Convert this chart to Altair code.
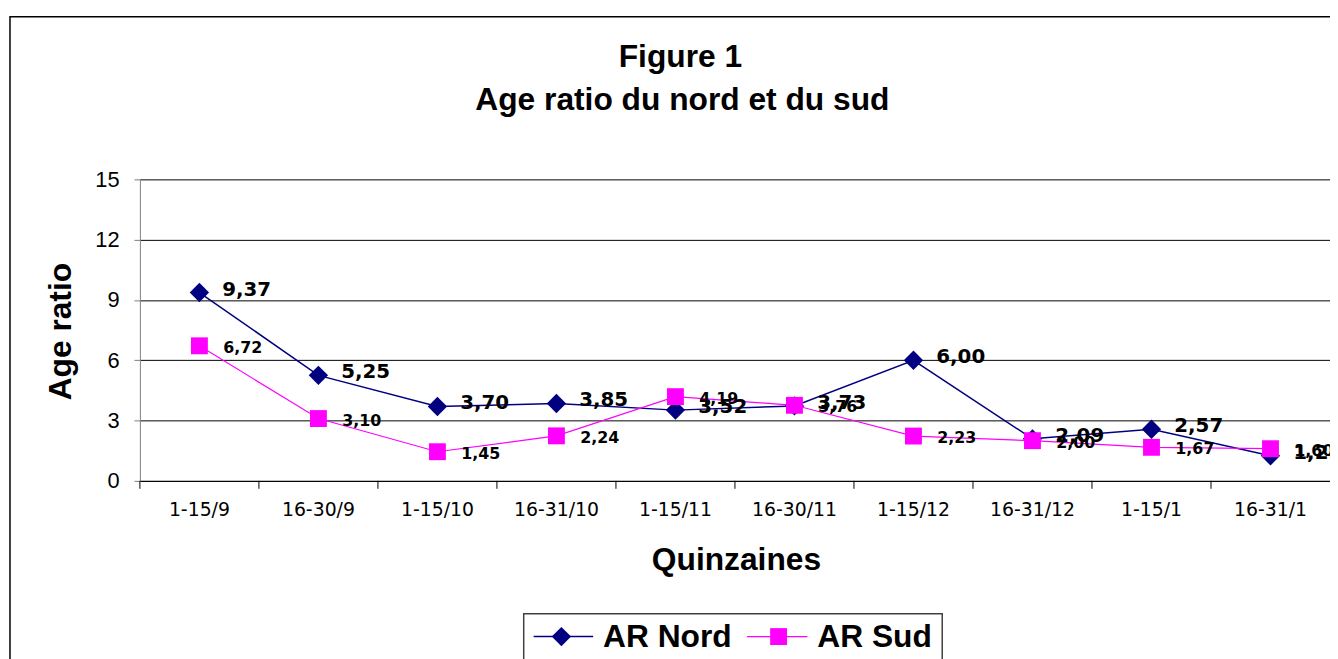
import altair as alt
import pandas as pd

categories = ["1-15/9", "16-30/9", "1-15/10", "16-31/10", "1-15/11",
              "16-30/11", "1-15/12", "16-31/12", "1-15/1", "16-31/1"]
nord = [9.37, 5.25, 3.70, 3.85, 3.52, 3.73, 6.00, 2.09, 2.57, 1.25]
sud = [6.72, 3.10, 1.45, 2.24, 4.19, 3.76, 2.23, 2.00, 1.67, 1.60]
series_names = ["AR Nord", "AR Sud"]
series_colors = ["#000080", "#FF00FF"]
y_ticks = [0, 3, 6, 9, 12, 15]
title_lines = ["Figure 1", "Age ratio du nord et du sud"]


def fmt(v):
    return f"{v:.2f}".replace(".", ",")


rows = []
for c, n, s in zip(categories, nord, sud):
    rows.append({"cat": c, "series": "AR Nord", "value": n, "label": fmt(n)})
    rows.append({"cat": c, "series": "AR Sud", "value": s, "label": fmt(s)})
df = pd.DataFrame(rows)
cat_df = pd.DataFrame({"cat": categories})
one = pd.DataFrame({"k": [0]})
leg_df = pd.DataFrame({"series": series_names})

W, H = 1200, 304
OX, OY = 133, 170  # padding so the plot origin sits at page (~140,178)
PX, PY = 140, 178

color_scale = alt.Scale(domain=series_names, range=series_colors)
xscale = alt.Scale(type="band", domain=categories, paddingInner=0, paddingOuter=0)
x_axis = alt.Axis(
    title="Quinzaines", labelFont="DejaVu Sans", labelFontSize=19, labelColor="black",
    labelAngle=0, ticks=False, labelPadding=20, domainColor="black", domainWidth=1,
    titleFont="Liberation Sans", titleFontSize=32, titleFontWeight="bold", titleColor="black",
    titleX=601, titleY=79, titleBaseline="middle", titleAlign="center", titleAnchor="start",
    grid=False,
)
y_axis = alt.Axis(
    values=y_ticks, title="Age ratio", grid=True, gridColor="black", gridWidth=1,
    domainColor="#808080", tickColor="#808080", tickSize=6, tickWidth=1,
    labelFont="Liberation Sans", labelFontSize=22, labelColor="black", labelPadding=15,
    titleFont="Liberation Sans", titleFontSize=32, titleFontWeight="bold", titleColor="black",
    titleX=-80, titleY=H / 2 + 1, titleAngle=270, titleBaseline="middle", titleAlign="center",
    titleAnchor="start",
)


def X(bp=0.5):
    return alt.X("cat:N", scale=xscale, bandPosition=bp, axis=x_axis)


Y = alt.Y("value:Q", scale=alt.Scale(domain=[0, 15], nice=False, zero=True), axis=y_axis)
C = alt.Color("series:N", scale=color_scale, legend=None)

base = alt.Chart(df)

frame = alt.Chart(one).mark_rect(fillOpacity=0, stroke="black", strokeWidth=1.5).encode(
    x=alt.value(9 - PX), x2=alt.value(W + 200), y=alt.value(14 - PY), y2=alt.value(H + 300)
)

title1 = alt.Chart(pd.DataFrame({"t": [title_lines[0]]})).mark_text(
    align="center", baseline="alphabetic", font="Liberation Sans", fontSize=32,
    fontWeight="bold", color="black").encode(
    x=alt.value(685 - PX), y=alt.value(65 - PY), text="t:N")
title2 = alt.Chart(pd.DataFrame({"t": [title_lines[1]]})).mark_text(
    align="center", baseline="alphabetic", font="Liberation Sans", fontSize=32,
    fontWeight="bold", color="black").encode(
    x=alt.value(687 - PX), y=alt.value(108 - PY), text="t:N")

ticks = alt.Chart(cat_df).mark_rule(color="black", strokeWidth=1).encode(
    x=X(0), y=alt.value(H), y2=alt.value(H + 8)
)

nord_line = base.transform_filter(alt.datum.series == "AR Nord").mark_line(strokeWidth=1.5).encode(
    x=X(), y=Y, color=C)
nord_pts = base.transform_filter(alt.datum.series == "AR Nord").mark_point(
    shape="diamond", size=380, filled=True, opacity=1).encode(x=X(), y=Y, color=C)
sud_line = base.transform_filter(alt.datum.series == "AR Sud").mark_line(strokeWidth=1.2).encode(
    x=X(), y=Y, color=C)
sud_pts = base.transform_filter(alt.datum.series == "AR Sud").mark_point(
    shape="square", size=290, filled=True, opacity=1).encode(x=X(), y=Y, color=C)

sud_text = base.transform_filter(alt.datum.series == "AR Sud").mark_text(
    align="left", baseline="middle", dx=24, dy=2, font="DejaVu Sans", fontSize=16,
    fontWeight="bold", color="black").encode(x=X(), y=Y, text="label:N")
nord_text = base.transform_filter(alt.datum.series == "AR Nord").mark_text(
    align="left", baseline="middle", dx=23, dy=-3, font="DejaVu Sans", fontSize=20,
    fontWeight="bold", color="black").encode(x=X(), y=Y, text="label:N")

# Legend (drawn manually so each entry shows line + marker)
LY = 639 - PY
leg_box = alt.Chart(one).mark_rect(fillOpacity=0, stroke="#404040", strokeWidth=1.5).encode(
    x=alt.value(527 - PX), x2=alt.value(949 - PX), y=alt.value(616 - PY), y2=alt.value(H + 300)
)
leg_nord = leg_df[leg_df.series == "AR Nord"]
leg_sud = leg_df[leg_df.series == "AR Sud"]
leg_nord_line = alt.Chart(leg_nord).mark_rule(strokeWidth=1.5).encode(
    x=alt.value(537 - PX), x2=alt.value(597 - PX), y=alt.value(LY), color=C)
leg_nord_pt = alt.Chart(leg_nord).mark_point(shape="diamond", size=380, filled=True, opacity=1).encode(
    x=alt.value(565 - PX), y=alt.value(LY), color=C)
leg_nord_txt = alt.Chart(leg_nord).mark_text(
    align="left", baseline="middle", font="Liberation Sans", fontSize=32, fontWeight="bold",
    color="black").encode(x=alt.value(607 - PX), y=alt.value(LY + 1), text="series:N")
leg_sud_line = alt.Chart(leg_sud).mark_rule(strokeWidth=1.2).encode(
    x=alt.value(752 - PX), x2=alt.value(813 - PX), y=alt.value(LY), color=C)
leg_sud_pt = alt.Chart(leg_sud).mark_point(shape="square", size=290, filled=True, opacity=1).encode(
    x=alt.value(784 - PX), y=alt.value(LY), color=C)
leg_sud_txt = alt.Chart(leg_sud).mark_text(
    align="left", baseline="middle", font="Liberation Sans", fontSize=32, fontWeight="bold",
    color="black").encode(x=alt.value(823 - PX), y=alt.value(LY + 1), text="series:N")

chart = alt.layer(
    frame, title1, title2, ticks, nord_line, nord_pts, sud_line, sud_pts, sud_text, nord_text,
    leg_box, leg_nord_line, leg_nord_pt, leg_nord_txt, leg_sud_line, leg_sud_pt, leg_sud_txt,
).properties(
    width=W, height=H,
    padding={"left": OX, "top": OY, "right": 0, "bottom": 200},
    autosize=alt.AutoSizeParams(type="none"),
    background="white",
).configure_view(stroke=None)

chart.save("out.html", embed_options={"renderer": "svg", "actions": False})
